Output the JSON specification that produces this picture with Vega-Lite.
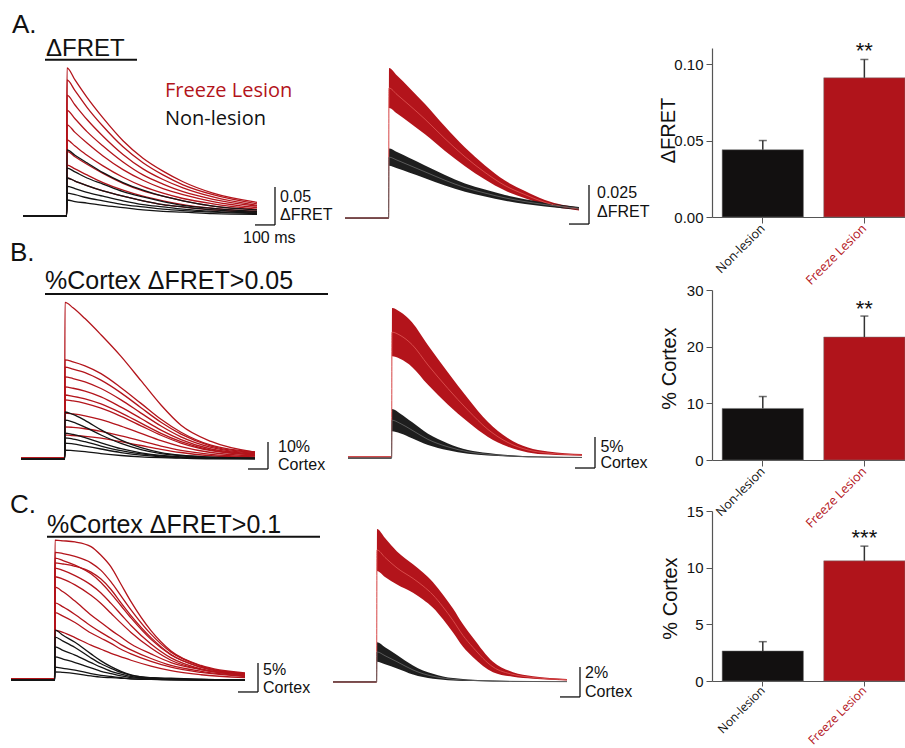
{
"$schema": "https://vega.github.io/schema/vega-lite/v6.json",
"padding": 0,
"background": "white",
"columns": 3,
"spacing": 0,
"bounds": "flush",
"align": "each",
"config": {"view": {"stroke": null}, "font": "Liberation Sans"},
"datasets": {
"a1": [
{"g":"F","i":1,"t":0,"v":0},{"g":"F","i":1,"t":218,"v":0},{"g":"F","i":1,"t":220,"v":0.195},{"g":"F","i":1,"t":260,"v":0.179},{"g":"F","i":1,"t":320,"v":0.156},{"g":"F","i":1,"t":400,"v":0.129},{"g":"F","i":1,"t":500,"v":0.099},{"g":"F","i":1,"t":600,"v":0.076},{"g":"F","i":1,"t":700,"v":0.059},{"g":"F","i":1,"t":800,"v":0.045},{"g":"F","i":1,"t":950,"v":0.030},{"g":"F","i":1,"t":1170,"v":0.018},
{"g":"F","i":2,"t":0,"v":0},{"g":"F","i":2,"t":218,"v":0},{"g":"F","i":2,"t":220,"v":0.179},{"g":"F","i":2,"t":260,"v":0.165},{"g":"F","i":2,"t":320,"v":0.143},{"g":"F","i":2,"t":400,"v":0.118},{"g":"F","i":2,"t":500,"v":0.091},{"g":"F","i":2,"t":600,"v":0.070},{"g":"F","i":2,"t":700,"v":0.054},{"g":"F","i":2,"t":800,"v":0.041},{"g":"F","i":2,"t":950,"v":0.028},{"g":"F","i":2,"t":1170,"v":0.016},
{"g":"F","i":3,"t":0,"v":0},{"g":"F","i":3,"t":218,"v":0},{"g":"F","i":3,"t":220,"v":0.159},{"g":"F","i":3,"t":260,"v":0.146},{"g":"F","i":3,"t":320,"v":0.127},{"g":"F","i":3,"t":400,"v":0.105},{"g":"F","i":3,"t":500,"v":0.081},{"g":"F","i":3,"t":600,"v":0.062},{"g":"F","i":3,"t":700,"v":0.048},{"g":"F","i":3,"t":800,"v":0.037},{"g":"F","i":3,"t":950,"v":0.025},{"g":"F","i":3,"t":1170,"v":0.014},
{"g":"F","i":4,"t":0,"v":0},{"g":"F","i":4,"t":218,"v":0},{"g":"F","i":4,"t":220,"v":0.139},{"g":"F","i":4,"t":260,"v":0.128},{"g":"F","i":4,"t":320,"v":0.111},{"g":"F","i":4,"t":400,"v":0.092},{"g":"F","i":4,"t":500,"v":0.071},{"g":"F","i":4,"t":600,"v":0.054},{"g":"F","i":4,"t":700,"v":0.042},{"g":"F","i":4,"t":800,"v":0.032},{"g":"F","i":4,"t":950,"v":0.022},{"g":"F","i":4,"t":1170,"v":0.013},
{"g":"F","i":5,"t":0,"v":0},{"g":"F","i":5,"t":218,"v":0},{"g":"F","i":5,"t":220,"v":0.120},{"g":"F","i":5,"t":260,"v":0.110},{"g":"F","i":5,"t":320,"v":0.096},{"g":"F","i":5,"t":400,"v":0.079},{"g":"F","i":5,"t":500,"v":0.061},{"g":"F","i":5,"t":600,"v":0.047},{"g":"F","i":5,"t":700,"v":0.036},{"g":"F","i":5,"t":800,"v":0.028},{"g":"F","i":5,"t":950,"v":0.019},{"g":"F","i":5,"t":1170,"v":0.011},
{"g":"F","i":6,"t":0,"v":0},{"g":"F","i":6,"t":218,"v":0},{"g":"F","i":6,"t":220,"v":0.100},{"g":"F","i":6,"t":260,"v":0.092},{"g":"F","i":6,"t":320,"v":0.080},{"g":"F","i":6,"t":400,"v":0.066},{"g":"F","i":6,"t":500,"v":0.051},{"g":"F","i":6,"t":600,"v":0.039},{"g":"F","i":6,"t":700,"v":0.030},{"g":"F","i":6,"t":800,"v":0.023},{"g":"F","i":6,"t":950,"v":0.016},{"g":"F","i":6,"t":1170,"v":0.009},
{"g":"F","i":7,"t":0,"v":0},{"g":"F","i":7,"t":218,"v":0},{"g":"F","i":7,"t":220,"v":0.085},{"g":"F","i":7,"t":260,"v":0.078},{"g":"F","i":7,"t":320,"v":0.068},{"g":"F","i":7,"t":400,"v":0.056},{"g":"F","i":7,"t":500,"v":0.043},{"g":"F","i":7,"t":600,"v":0.033},{"g":"F","i":7,"t":700,"v":0.026},{"g":"F","i":7,"t":800,"v":0.020},{"g":"F","i":7,"t":950,"v":0.013},{"g":"F","i":7,"t":1170,"v":0.008},
{"g":"F","i":8,"t":0,"v":0},{"g":"F","i":8,"t":218,"v":0},{"g":"F","i":8,"t":220,"v":0.067},{"g":"F","i":8,"t":260,"v":0.062},{"g":"F","i":8,"t":320,"v":0.054},{"g":"F","i":8,"t":400,"v":0.044},{"g":"F","i":8,"t":500,"v":0.034},{"g":"F","i":8,"t":600,"v":0.026},{"g":"F","i":8,"t":700,"v":0.020},{"g":"F","i":8,"t":800,"v":0.015},{"g":"F","i":8,"t":950,"v":0.010},{"g":"F","i":8,"t":1170,"v":0.006},
{"g":"F","i":9,"t":0,"v":0},{"g":"F","i":9,"t":218,"v":0},{"g":"F","i":9,"t":220,"v":0.050},{"g":"F","i":9,"t":260,"v":0.046},{"g":"F","i":9,"t":320,"v":0.040},{"g":"F","i":9,"t":400,"v":0.033},{"g":"F","i":9,"t":500,"v":0.026},{"g":"F","i":9,"t":600,"v":0.020},{"g":"F","i":9,"t":700,"v":0.015},{"g":"F","i":9,"t":800,"v":0.012},{"g":"F","i":9,"t":950,"v":0.008},{"g":"F","i":9,"t":1170,"v":0.005},
{"g":"N","i":11,"t":0,"v":0},{"g":"N","i":11,"t":218,"v":0},{"g":"N","i":11,"t":220,"v":0.087},{"g":"N","i":11,"t":260,"v":0.080},{"g":"N","i":11,"t":320,"v":0.070},{"g":"N","i":11,"t":400,"v":0.057},{"g":"N","i":11,"t":500,"v":0.044},{"g":"N","i":11,"t":600,"v":0.034},{"g":"N","i":11,"t":700,"v":0.026},{"g":"N","i":11,"t":800,"v":0.020},{"g":"N","i":11,"t":950,"v":0.013},{"g":"N","i":11,"t":1170,"v":0.008},
{"g":"N","i":12,"t":0,"v":0},{"g":"N","i":12,"t":218,"v":0},{"g":"N","i":12,"t":220,"v":0.063},{"g":"N","i":12,"t":260,"v":0.058},{"g":"N","i":12,"t":320,"v":0.050},{"g":"N","i":12,"t":400,"v":0.042},{"g":"N","i":12,"t":500,"v":0.032},{"g":"N","i":12,"t":600,"v":0.025},{"g":"N","i":12,"t":700,"v":0.019},{"g":"N","i":12,"t":800,"v":0.014},{"g":"N","i":12,"t":950,"v":0.010},{"g":"N","i":12,"t":1170,"v":0.006},
{"g":"N","i":13,"t":0,"v":0},{"g":"N","i":13,"t":218,"v":0},{"g":"N","i":13,"t":220,"v":0.050},{"g":"N","i":13,"t":260,"v":0.046},{"g":"N","i":13,"t":320,"v":0.040},{"g":"N","i":13,"t":400,"v":0.033},{"g":"N","i":13,"t":500,"v":0.026},{"g":"N","i":13,"t":600,"v":0.020},{"g":"N","i":13,"t":700,"v":0.015},{"g":"N","i":13,"t":800,"v":0.012},{"g":"N","i":13,"t":950,"v":0.008},{"g":"N","i":13,"t":1170,"v":0.005},
{"g":"N","i":14,"t":0,"v":0},{"g":"N","i":14,"t":218,"v":0},{"g":"N","i":14,"t":220,"v":0.039},{"g":"N","i":14,"t":260,"v":0.036},{"g":"N","i":14,"t":320,"v":0.031},{"g":"N","i":14,"t":400,"v":0.026},{"g":"N","i":14,"t":500,"v":0.020},{"g":"N","i":14,"t":600,"v":0.015},{"g":"N","i":14,"t":700,"v":0.012},{"g":"N","i":14,"t":800,"v":0.009},{"g":"N","i":14,"t":950,"v":0.006},{"g":"N","i":14,"t":1170,"v":0.004},
{"g":"N","i":15,"t":0,"v":0},{"g":"N","i":15,"t":218,"v":0},{"g":"N","i":15,"t":220,"v":0.030},{"g":"N","i":15,"t":260,"v":0.028},{"g":"N","i":15,"t":320,"v":0.024},{"g":"N","i":15,"t":400,"v":0.020},{"g":"N","i":15,"t":500,"v":0.015},{"g":"N","i":15,"t":600,"v":0.012},{"g":"N","i":15,"t":700,"v":0.009},{"g":"N","i":15,"t":800,"v":0.007},{"g":"N","i":15,"t":950,"v":0.005},{"g":"N","i":15,"t":1170,"v":0.003},
{"g":"N","i":16,"t":0,"v":0},{"g":"N","i":16,"t":218,"v":0},{"g":"N","i":16,"t":220,"v":0.021},{"g":"N","i":16,"t":260,"v":0.019},{"g":"N","i":16,"t":320,"v":0.017},{"g":"N","i":16,"t":400,"v":0.014},{"g":"N","i":16,"t":500,"v":0.011},{"g":"N","i":16,"t":600,"v":0.008},{"g":"N","i":16,"t":700,"v":0.006},{"g":"N","i":16,"t":800,"v":0.005},{"g":"N","i":16,"t":950,"v":0.003},{"g":"N","i":16,"t":1170,"v":0.002}
],
"b1": [
{"g":"F","i":1,"t":0,"v":0.3},{"g":"F","i":1,"t":218,"v":0.3},{"g":"F","i":1,"t":220,"v":58},{"g":"F","i":1,"t":260,"v":56},{"g":"F","i":1,"t":320,"v":52},{"g":"F","i":1,"t":400,"v":46},{"g":"F","i":1,"t":500,"v":38},{"g":"F","i":1,"t":600,"v":29},{"g":"F","i":1,"t":700,"v":20},{"g":"F","i":1,"t":800,"v":12.5},{"g":"F","i":1,"t":950,"v":6.5},{"g":"F","i":1,"t":1170,"v":2.5},
{"g":"F","i":2,"t":0,"v":0.3},{"g":"F","i":2,"t":218,"v":0.3},{"g":"F","i":2,"t":220,"v":36.7},{"g":"F","i":2,"t":260,"v":36.0},{"g":"F","i":2,"t":320,"v":34.5},{"g":"F","i":2,"t":400,"v":31.6},{"g":"F","i":2,"t":500,"v":26.4},{"g":"F","i":2,"t":600,"v":20.6},{"g":"F","i":2,"t":700,"v":14.7},{"g":"F","i":2,"t":800,"v":9.9},{"g":"F","i":2,"t":950,"v":5.1},{"g":"F","i":2,"t":1170,"v":2.6},
{"g":"F","i":3,"t":0,"v":0.3},{"g":"F","i":3,"t":218,"v":0.3},{"g":"F","i":3,"t":220,"v":34},{"g":"F","i":3,"t":260,"v":33.3},{"g":"F","i":3,"t":320,"v":32},{"g":"F","i":3,"t":400,"v":29.2},{"g":"F","i":3,"t":500,"v":24.5},{"g":"F","i":3,"t":600,"v":19},{"g":"F","i":3,"t":700,"v":13.6},{"g":"F","i":3,"t":800,"v":9.2},{"g":"F","i":3,"t":950,"v":4.8},{"g":"F","i":3,"t":1170,"v":2.4},
{"g":"F","i":4,"t":0,"v":0.2},{"g":"F","i":4,"t":218,"v":0.2},{"g":"F","i":4,"t":220,"v":30.4},{"g":"F","i":4,"t":260,"v":29.8},{"g":"F","i":4,"t":320,"v":28.6},{"g":"F","i":4,"t":400,"v":26.1},{"g":"F","i":4,"t":500,"v":21.9},{"g":"F","i":4,"t":600,"v":17},{"g":"F","i":4,"t":700,"v":12.2},{"g":"F","i":4,"t":800,"v":8.2},{"g":"F","i":4,"t":950,"v":4.3},{"g":"F","i":4,"t":1170,"v":2.1},
{"g":"F","i":5,"t":0,"v":0.2},{"g":"F","i":5,"t":218,"v":0.2},{"g":"F","i":5,"t":220,"v":26.7},{"g":"F","i":5,"t":260,"v":26.2},{"g":"F","i":5,"t":320,"v":25.1},{"g":"F","i":5,"t":400,"v":23},{"g":"F","i":5,"t":500,"v":19.2},{"g":"F","i":5,"t":600,"v":15},{"g":"F","i":5,"t":700,"v":10.7},{"g":"F","i":5,"t":800,"v":7.2},{"g":"F","i":5,"t":950,"v":3.7},{"g":"F","i":5,"t":1170,"v":1.9},
{"g":"F","i":6,"t":0,"v":0.2},{"g":"F","i":6,"t":218,"v":0.2},{"g":"F","i":6,"t":220,"v":23.7},{"g":"F","i":6,"t":260,"v":23.2},{"g":"F","i":6,"t":320,"v":22.3},{"g":"F","i":6,"t":400,"v":20.4},{"g":"F","i":6,"t":500,"v":17.1},{"g":"F","i":6,"t":600,"v":13.3},{"g":"F","i":6,"t":700,"v":9.5},{"g":"F","i":6,"t":800,"v":6.4},{"g":"F","i":6,"t":950,"v":3.3},{"g":"F","i":6,"t":1170,"v":1.7},
{"g":"F","i":7,"t":0,"v":0.2},{"g":"F","i":7,"t":218,"v":0.2},{"g":"F","i":7,"t":220,"v":21.9},{"g":"F","i":7,"t":260,"v":21.5},{"g":"F","i":7,"t":320,"v":20.6},{"g":"F","i":7,"t":400,"v":18.8},{"g":"F","i":7,"t":500,"v":15.8},{"g":"F","i":7,"t":600,"v":12.3},{"g":"F","i":7,"t":700,"v":8.8},{"g":"F","i":7,"t":800,"v":5.9},{"g":"F","i":7,"t":950,"v":3.1},{"g":"F","i":7,"t":1170,"v":1.5},
{"g":"F","i":8,"t":0,"v":0.1},{"g":"F","i":8,"t":218,"v":0.1},{"g":"F","i":8,"t":220,"v":17},{"g":"F","i":8,"t":260,"v":16.7},{"g":"F","i":8,"t":320,"v":16},{"g":"F","i":8,"t":400,"v":14.6},{"g":"F","i":8,"t":500,"v":12.2},{"g":"F","i":8,"t":600,"v":9.5},{"g":"F","i":8,"t":700,"v":6.8},{"g":"F","i":8,"t":800,"v":4.6},{"g":"F","i":8,"t":950,"v":2.4},{"g":"F","i":8,"t":1170,"v":1.2},
{"g":"F","i":9,"t":0,"v":0.1},{"g":"F","i":9,"t":218,"v":0.1},{"g":"F","i":9,"t":220,"v":11.9},{"g":"F","i":9,"t":260,"v":11.7},{"g":"F","i":9,"t":320,"v":11.2},{"g":"F","i":9,"t":400,"v":10.2},{"g":"F","i":9,"t":500,"v":8.6},{"g":"F","i":9,"t":600,"v":6.7},{"g":"F","i":9,"t":700,"v":4.8},{"g":"F","i":9,"t":800,"v":3.2},{"g":"F","i":9,"t":950,"v":1.7},{"g":"F","i":9,"t":1170,"v":0.8},
{"g":"F","i":10,"t":0,"v":0.1},{"g":"F","i":10,"t":218,"v":0.1},{"g":"F","i":10,"t":220,"v":8.9},{"g":"F","i":10,"t":260,"v":8.7},{"g":"F","i":10,"t":320,"v":8.4},{"g":"F","i":10,"t":400,"v":7.7},{"g":"F","i":10,"t":500,"v":6.4},{"g":"F","i":10,"t":600,"v":5},{"g":"F","i":10,"t":700,"v":3.6},{"g":"F","i":10,"t":800,"v":2.4},{"g":"F","i":10,"t":950,"v":1.2},{"g":"F","i":10,"t":1170,"v":0.6},
{"g":"N","i":11,"t":0,"v":0},{"g":"N","i":11,"t":218,"v":0},{"g":"N","i":11,"t":220,"v":17.4},{"g":"N","i":11,"t":260,"v":16.5},{"g":"N","i":11,"t":320,"v":14.3},{"g":"N","i":11,"t":400,"v":10.8},{"g":"N","i":11,"t":500,"v":7},{"g":"N","i":11,"t":600,"v":4.2},{"g":"N","i":11,"t":700,"v":2.4},{"g":"N","i":11,"t":800,"v":1.4},{"g":"N","i":11,"t":950,"v":0.7},{"g":"N","i":11,"t":1170,"v":0.3},
{"g":"N","i":12,"t":0,"v":0},{"g":"N","i":12,"t":218,"v":0},{"g":"N","i":12,"t":220,"v":14.4},{"g":"N","i":12,"t":260,"v":13.7},{"g":"N","i":12,"t":320,"v":11.8},{"g":"N","i":12,"t":400,"v":8.9},{"g":"N","i":12,"t":500,"v":5.8},{"g":"N","i":12,"t":600,"v":3.5},{"g":"N","i":12,"t":700,"v":2},{"g":"N","i":12,"t":800,"v":1.2},{"g":"N","i":12,"t":950,"v":0.6},{"g":"N","i":12,"t":1170,"v":0.3},
{"g":"N","i":13,"t":0,"v":0},{"g":"N","i":13,"t":218,"v":0},{"g":"N","i":13,"t":220,"v":9.6},{"g":"N","i":13,"t":260,"v":9.1},{"g":"N","i":13,"t":320,"v":7.9},{"g":"N","i":13,"t":400,"v":6},{"g":"N","i":13,"t":500,"v":3.8},{"g":"N","i":13,"t":600,"v":2.3},{"g":"N","i":13,"t":700,"v":1.3},{"g":"N","i":13,"t":800,"v":0.8},{"g":"N","i":13,"t":950,"v":0.4},{"g":"N","i":13,"t":1170,"v":0.2},
{"g":"N","i":14,"t":0,"v":0},{"g":"N","i":14,"t":218,"v":0},{"g":"N","i":14,"t":220,"v":7.8},{"g":"N","i":14,"t":260,"v":7.4},{"g":"N","i":14,"t":320,"v":6.4},{"g":"N","i":14,"t":400,"v":4.8},{"g":"N","i":14,"t":500,"v":3.1},{"g":"N","i":14,"t":600,"v":1.9},{"g":"N","i":14,"t":700,"v":1.1},{"g":"N","i":14,"t":800,"v":0.6},{"g":"N","i":14,"t":950,"v":0.3},{"g":"N","i":14,"t":1170,"v":0.2},
{"g":"N","i":15,"t":0,"v":0},{"g":"N","i":15,"t":218,"v":0},{"g":"N","i":15,"t":220,"v":5.9},{"g":"N","i":15,"t":260,"v":5.6},{"g":"N","i":15,"t":320,"v":4.8},{"g":"N","i":15,"t":400,"v":3.7},{"g":"N","i":15,"t":500,"v":2.4},{"g":"N","i":15,"t":600,"v":1.4},{"g":"N","i":15,"t":700,"v":0.8},{"g":"N","i":15,"t":800,"v":0.5},{"g":"N","i":15,"t":950,"v":0.2},{"g":"N","i":15,"t":1170,"v":0.1},
{"g":"N","i":16,"t":0,"v":0},{"g":"N","i":16,"t":218,"v":0},{"g":"N","i":16,"t":220,"v":3.3},{"g":"N","i":16,"t":260,"v":3.1},{"g":"N","i":16,"t":320,"v":2.7},{"g":"N","i":16,"t":400,"v":2},{"g":"N","i":16,"t":500,"v":1.3},{"g":"N","i":16,"t":600,"v":0.8},{"g":"N","i":16,"t":700,"v":0.5},{"g":"N","i":16,"t":800,"v":0.3},{"g":"N","i":16,"t":950,"v":0.1},{"g":"N","i":16,"t":1170,"v":0.1}
],
"c1": [
{"g":"F","i":1,"t":0,"v":0.2},{"g":"F","i":1,"t":218,"v":0.2},{"g":"F","i":1,"t":220,"v":24.1},{"g":"F","i":1,"t":260,"v":24},{"g":"F","i":1,"t":320,"v":23.8},{"g":"F","i":1,"t":400,"v":23},{"g":"F","i":1,"t":450,"v":21.5},{"g":"F","i":1,"t":500,"v":19.5},{"g":"F","i":1,"t":550,"v":16.5},{"g":"F","i":1,"t":600,"v":13.5},{"g":"F","i":1,"t":700,"v":8.5},{"g":"F","i":1,"t":800,"v":5},{"g":"F","i":1,"t":950,"v":2.5},{"g":"F","i":1,"t":1170,"v":1.2},
{"g":"F","i":2,"t":0,"v":0.2},{"g":"F","i":2,"t":218,"v":0.2},{"g":"F","i":2,"t":220,"v":22},{"g":"F","i":2,"t":260,"v":21.8},{"g":"F","i":2,"t":320,"v":21.3},{"g":"F","i":2,"t":400,"v":20.2},{"g":"F","i":2,"t":450,"v":18.9},{"g":"F","i":2,"t":500,"v":16.9},{"g":"F","i":2,"t":550,"v":14.5},{"g":"F","i":2,"t":600,"v":12.1},{"g":"F","i":2,"t":700,"v":7.9},{"g":"F","i":2,"t":800,"v":4.8},{"g":"F","i":2,"t":950,"v":2.4},{"g":"F","i":2,"t":1170,"v":1.1},
{"g":"F","i":3,"t":0,"v":0.2},{"g":"F","i":3,"t":218,"v":0.2},{"g":"F","i":3,"t":220,"v":21},{"g":"F","i":3,"t":260,"v":20.6},{"g":"F","i":3,"t":320,"v":19.8},{"g":"F","i":3,"t":400,"v":18.3},{"g":"F","i":3,"t":450,"v":16.8},{"g":"F","i":3,"t":500,"v":14.9},{"g":"F","i":3,"t":550,"v":12.8},{"g":"F","i":3,"t":600,"v":10.7},{"g":"F","i":3,"t":700,"v":7},{"g":"F","i":3,"t":800,"v":4.3},{"g":"F","i":3,"t":950,"v":2.2},{"g":"F","i":3,"t":1170,"v":1},
{"g":"F","i":4,"t":0,"v":0.2},{"g":"F","i":4,"t":218,"v":0.2},{"g":"F","i":4,"t":220,"v":20.2},{"g":"F","i":4,"t":260,"v":20},{"g":"F","i":4,"t":320,"v":19.6},{"g":"F","i":4,"t":400,"v":18.6},{"g":"F","i":4,"t":450,"v":17.4},{"g":"F","i":4,"t":500,"v":15.6},{"g":"F","i":4,"t":550,"v":13.3},{"g":"F","i":4,"t":600,"v":11.1},{"g":"F","i":4,"t":700,"v":7.3},{"g":"F","i":4,"t":800,"v":4.4},{"g":"F","i":4,"t":950,"v":2.2},{"g":"F","i":4,"t":1170,"v":1},
{"g":"F","i":5,"t":0,"v":0.2},{"g":"F","i":5,"t":218,"v":0.2},{"g":"F","i":5,"t":220,"v":19.3},{"g":"F","i":5,"t":260,"v":18.9},{"g":"F","i":5,"t":320,"v":18},{"g":"F","i":5,"t":400,"v":16.4},{"g":"F","i":5,"t":450,"v":15},{"g":"F","i":5,"t":500,"v":13.2},{"g":"F","i":5,"t":550,"v":11.3},{"g":"F","i":5,"t":600,"v":9.4},{"g":"F","i":5,"t":700,"v":6.2},{"g":"F","i":5,"t":800,"v":3.8},{"g":"F","i":5,"t":950,"v":1.9},{"g":"F","i":5,"t":1170,"v":0.9},
{"g":"F","i":6,"t":0,"v":0.1},{"g":"F","i":6,"t":218,"v":0.1},{"g":"F","i":6,"t":220,"v":17.8},{"g":"F","i":6,"t":260,"v":17.4},{"g":"F","i":6,"t":320,"v":16.4},{"g":"F","i":6,"t":400,"v":14.6},{"g":"F","i":6,"t":450,"v":13.2},{"g":"F","i":6,"t":500,"v":11.5},{"g":"F","i":6,"t":550,"v":9.8},{"g":"F","i":6,"t":600,"v":8.2},{"g":"F","i":6,"t":700,"v":5.5},{"g":"F","i":6,"t":800,"v":3.4},{"g":"F","i":6,"t":950,"v":1.8},{"g":"F","i":6,"t":1170,"v":0.9},
{"g":"F","i":7,"t":0,"v":0.1},{"g":"F","i":7,"t":218,"v":0.1},{"g":"F","i":7,"t":220,"v":16},{"g":"F","i":7,"t":260,"v":15.2},{"g":"F","i":7,"t":320,"v":13.6},{"g":"F","i":7,"t":400,"v":11.2},{"g":"F","i":7,"t":450,"v":9.9},{"g":"F","i":7,"t":500,"v":8.6},{"g":"F","i":7,"t":550,"v":7.4},{"g":"F","i":7,"t":600,"v":6.2},{"g":"F","i":7,"t":700,"v":4.5},{"g":"F","i":7,"t":800,"v":3},{"g":"F","i":7,"t":950,"v":1.8},{"g":"F","i":7,"t":1170,"v":0.8},
{"g":"F","i":8,"t":0,"v":0.1},{"g":"F","i":8,"t":218,"v":0.1},{"g":"F","i":8,"t":220,"v":13.3},{"g":"F","i":8,"t":260,"v":12.6},{"g":"F","i":8,"t":320,"v":11.3},{"g":"F","i":8,"t":400,"v":9.3},{"g":"F","i":8,"t":450,"v":8.2},{"g":"F","i":8,"t":500,"v":7.2},{"g":"F","i":8,"t":550,"v":6.1},{"g":"F","i":8,"t":600,"v":5.2},{"g":"F","i":8,"t":700,"v":3.7},{"g":"F","i":8,"t":800,"v":2.5},{"g":"F","i":8,"t":950,"v":1.5},{"g":"F","i":8,"t":1170,"v":0.7},
{"g":"F","i":9,"t":0,"v":0.1},{"g":"F","i":9,"t":218,"v":0.1},{"g":"F","i":9,"t":220,"v":11.6},{"g":"F","i":9,"t":260,"v":11},{"g":"F","i":9,"t":320,"v":9.9},{"g":"F","i":9,"t":400,"v":8.1},{"g":"F","i":9,"t":450,"v":7.2},{"g":"F","i":9,"t":500,"v":6.3},{"g":"F","i":9,"t":550,"v":5.3},{"g":"F","i":9,"t":600,"v":4.5},{"g":"F","i":9,"t":700,"v":3.2},{"g":"F","i":9,"t":800,"v":2.2},{"g":"F","i":9,"t":950,"v":1.3},{"g":"F","i":9,"t":1170,"v":0.6},
{"g":"F","i":10,"t":0,"v":0.1},{"g":"F","i":10,"t":218,"v":0.1},{"g":"F","i":10,"t":220,"v":8.6},{"g":"F","i":10,"t":260,"v":8.2},{"g":"F","i":10,"t":320,"v":7.3},{"g":"F","i":10,"t":400,"v":6},{"g":"F","i":10,"t":450,"v":5.3},{"g":"F","i":10,"t":500,"v":4.6},{"g":"F","i":10,"t":550,"v":4},{"g":"F","i":10,"t":600,"v":3.4},{"g":"F","i":10,"t":700,"v":2.4},{"g":"F","i":10,"t":800,"v":1.6},{"g":"F","i":10,"t":950,"v":0.9},{"g":"F","i":10,"t":1170,"v":0.4},
{"g":"N","i":11,"t":0,"v":0},{"g":"N","i":11,"t":218,"v":0},{"g":"N","i":11,"t":220,"v":8.6},{"g":"N","i":11,"t":260,"v":7.7},{"g":"N","i":11,"t":320,"v":6.5},{"g":"N","i":11,"t":400,"v":4.5},{"g":"N","i":11,"t":450,"v":3.3},{"g":"N","i":11,"t":500,"v":2.3},{"g":"N","i":11,"t":550,"v":1.5},{"g":"N","i":11,"t":600,"v":0.9},{"g":"N","i":11,"t":700,"v":0.4},{"g":"N","i":11,"t":800,"v":0.3},{"g":"N","i":11,"t":950,"v":0.1},{"g":"N","i":11,"t":1170,"v":0},
{"g":"N","i":12,"t":0,"v":0},{"g":"N","i":12,"t":218,"v":0},{"g":"N","i":12,"t":220,"v":7.4},{"g":"N","i":12,"t":260,"v":6.7},{"g":"N","i":12,"t":320,"v":5.6},{"g":"N","i":12,"t":400,"v":3.8},{"g":"N","i":12,"t":450,"v":2.8},{"g":"N","i":12,"t":500,"v":2},{"g":"N","i":12,"t":550,"v":1.3},{"g":"N","i":12,"t":600,"v":0.8},{"g":"N","i":12,"t":700,"v":0.4},{"g":"N","i":12,"t":800,"v":0.2},{"g":"N","i":12,"t":950,"v":0.1},{"g":"N","i":12,"t":1170,"v":0},
{"g":"N","i":13,"t":0,"v":0},{"g":"N","i":13,"t":218,"v":0},{"g":"N","i":13,"t":220,"v":5.7},{"g":"N","i":13,"t":260,"v":5.1},{"g":"N","i":13,"t":320,"v":4.3},{"g":"N","i":13,"t":400,"v":3},{"g":"N","i":13,"t":450,"v":2.2},{"g":"N","i":13,"t":500,"v":1.5},{"g":"N","i":13,"t":550,"v":1},{"g":"N","i":13,"t":600,"v":0.6},{"g":"N","i":13,"t":700,"v":0.3},{"g":"N","i":13,"t":800,"v":0.2},{"g":"N","i":13,"t":950,"v":0.1},{"g":"N","i":13,"t":1170,"v":0},
{"g":"N","i":14,"t":0,"v":0},{"g":"N","i":14,"t":218,"v":0},{"g":"N","i":14,"t":220,"v":4},{"g":"N","i":14,"t":260,"v":3.6},{"g":"N","i":14,"t":320,"v":3},{"g":"N","i":14,"t":400,"v":2.1},{"g":"N","i":14,"t":450,"v":1.5},{"g":"N","i":14,"t":500,"v":1.1},{"g":"N","i":14,"t":550,"v":0.7},{"g":"N","i":14,"t":600,"v":0.4},{"g":"N","i":14,"t":700,"v":0.2},{"g":"N","i":14,"t":800,"v":0.1},{"g":"N","i":14,"t":950,"v":0},{"g":"N","i":14,"t":1170,"v":0},
{"g":"N","i":15,"t":0,"v":0},{"g":"N","i":15,"t":218,"v":0},{"g":"N","i":15,"t":220,"v":2.2},{"g":"N","i":15,"t":260,"v":2},{"g":"N","i":15,"t":320,"v":1.7},{"g":"N","i":15,"t":400,"v":1.1},{"g":"N","i":15,"t":450,"v":0.8},{"g":"N","i":15,"t":500,"v":0.6},{"g":"N","i":15,"t":550,"v":0.4},{"g":"N","i":15,"t":600,"v":0.2},{"g":"N","i":15,"t":700,"v":0.1},{"g":"N","i":15,"t":800,"v":0.1},{"g":"N","i":15,"t":950,"v":0},{"g":"N","i":15,"t":1170,"v":0},
{"g":"N","i":16,"t":0,"v":0},{"g":"N","i":16,"t":218,"v":0},{"g":"N","i":16,"t":220,"v":1.4},{"g":"N","i":16,"t":260,"v":1.3},{"g":"N","i":16,"t":320,"v":1.1},{"g":"N","i":16,"t":400,"v":0.7},{"g":"N","i":16,"t":450,"v":0.5},{"g":"N","i":16,"t":500,"v":0.4},{"g":"N","i":16,"t":550,"v":0.3},{"g":"N","i":16,"t":600,"v":0.2},{"g":"N","i":16,"t":700,"v":0.1},{"g":"N","i":16,"t":800,"v":0},{"g":"N","i":16,"t":950,"v":0},{"g":"N","i":16,"t":1170,"v":0}
],
"a2": [
{"g":"F","t":0,"m":0,"lo":-0.0004,"hi":0.0004},{"g":"F","t":218,"m":0,"lo":-0.0004,"hi":0.0004},{"g":"F","t":220,"m":0.0833,"lo":0.0705,"hi":0.0961},{"g":"F","t":260,"m":0.0791,"lo":0.0669,"hi":0.0913},{"g":"F","t":320,"m":0.0725,"lo":0.0613,"hi":0.0837},{"g":"F","t":400,"m":0.0633,"lo":0.0536,"hi":0.0730},{"g":"F","t":500,"m":0.0508,"lo":0.0430,"hi":0.0586},{"g":"F","t":600,"m":0.0392,"lo":0.0332,"hi":0.0452},{"g":"F","t":700,"m":0.0292,"lo":0.0247,"hi":0.0337},{"g":"F","t":800,"m":0.0208,"lo":0.0176,"hi":0.0240},{"g":"F","t":900,"m":0.0150,"lo":0.0127,"hi":0.0173},{"g":"F","t":1000,"m":0.0100,"lo":0.0085,"hi":0.0115},{"g":"F","t":1170,"m":0.0058,"lo":0.0049,"hi":0.0067},
{"g":"N","t":0,"m":0,"lo":-0.0004,"hi":0.0004},{"g":"N","t":218,"m":0,"lo":-0.0004,"hi":0.0004},{"g":"N","t":220,"m":0.039,"lo":0.0335,"hi":0.0445},{"g":"N","t":260,"m":0.0371,"lo":0.0319,"hi":0.0423},{"g":"N","t":320,"m":0.0339,"lo":0.0292,"hi":0.0386},{"g":"N","t":400,"m":0.0296,"lo":0.0255,"hi":0.0337},{"g":"N","t":500,"m":0.0242,"lo":0.0208,"hi":0.0276},{"g":"N","t":600,"m":0.0195,"lo":0.0168,"hi":0.0222},{"g":"N","t":700,"m":0.0160,"lo":0.0138,"hi":0.0182},{"g":"N","t":800,"m":0.0129,"lo":0.0111,"hi":0.0147},{"g":"N","t":900,"m":0.0105,"lo":0.0090,"hi":0.0120},{"g":"N","t":1000,"m":0.0086,"lo":0.0074,"hi":0.0098},{"g":"N","t":1170,"m":0.0062,"lo":0.0053,"hi":0.0071}
],
"b2": [
{"g":"F","t":0,"m":0.2,"lo":0.1,"hi":0.3},{"g":"F","t":218,"m":0.2,"lo":0.1,"hi":0.3},{"g":"F","t":220,"m":20.3,"lo":16.4,"hi":24.2},{"g":"F","t":260,"m":19.8,"lo":16.0,"hi":23.6},{"g":"F","t":320,"m":18.3,"lo":14.7,"hi":21.9},{"g":"F","t":400,"m":15,"lo":11.8,"hi":18.2},{"g":"F","t":500,"m":11.2,"lo":8.6,"hi":13.8},{"g":"F","t":600,"m":7.7,"lo":5.8,"hi":9.6},{"g":"F","t":700,"m":4.6,"lo":3.4,"hi":5.8},{"g":"F","t":800,"m":2.5,"lo":1.8,"hi":3.2},{"g":"F","t":900,"m":1.3,"lo":0.9,"hi":1.7},{"g":"F","t":1000,"m":0.8,"lo":0.55,"hi":1.05},{"g":"F","t":1170,"m":0.5,"lo":0.35,"hi":0.65},
{"g":"N","t":0,"m":0,"lo":-0.1,"hi":0.1},{"g":"N","t":218,"m":0,"lo":-0.1,"hi":0.1},{"g":"N","t":220,"m":6.1,"lo":4.3,"hi":7.9},{"g":"N","t":260,"m":5.6,"lo":4.0,"hi":7.2},{"g":"N","t":320,"m":4.5,"lo":3.2,"hi":5.8},{"g":"N","t":400,"m":3.0,"lo":2.1,"hi":3.9},{"g":"N","t":500,"m":1.8,"lo":1.25,"hi":2.35},{"g":"N","t":600,"m":1.0,"lo":0.7,"hi":1.3},{"g":"N","t":700,"m":0.6,"lo":0.4,"hi":0.8},{"g":"N","t":800,"m":0.35,"lo":0.23,"hi":0.47},{"g":"N","t":900,"m":0.2,"lo":0.12,"hi":0.28},{"g":"N","t":1000,"m":0.15,"lo":0.09,"hi":0.21},{"g":"N","t":1170,"m":0.1,"lo":0.05,"hi":0.15}
],
"c2": [
{"g":"F","t":0,"m":0,"lo":-0.04,"hi":0.04},{"g":"F","t":218,"m":0,"lo":-0.04,"hi":0.04},{"g":"F","t":220,"m":8.8,"lo":7.4,"hi":10.2},{"g":"F","t":260,"m":8.3,"lo":7.0,"hi":9.6},{"g":"F","t":320,"m":7.6,"lo":6.5,"hi":8.7},{"g":"F","t":400,"m":6.9,"lo":5.95,"hi":7.85},{"g":"F","t":450,"m":6.4,"lo":5.5,"hi":7.3},{"g":"F","t":500,"m":5.8,"lo":4.95,"hi":6.65},{"g":"F","t":550,"m":5.0,"lo":4.18,"hi":5.82},{"g":"F","t":600,"m":4.1,"lo":3.3,"hi":4.9},{"g":"F","t":650,"m":3.1,"lo":2.35,"hi":3.85},{"g":"F","t":700,"m":2.3,"lo":1.65,"hi":2.95},{"g":"F","t":800,"m":1.0,"lo":0.65,"hi":1.35},{"g":"F","t":900,"m":0.5,"lo":0.35,"hi":0.65},{"g":"F","t":1000,"m":0.3,"lo":0.22,"hi":0.38},{"g":"F","t":1170,"m":0.15,"lo":0.1,"hi":0.2},
{"g":"N","t":0,"m":0,"lo":-0.04,"hi":0.04},{"g":"N","t":218,"m":0,"lo":-0.04,"hi":0.04},{"g":"N","t":220,"m":2.0,"lo":1.35,"hi":2.65},{"g":"N","t":260,"m":1.75,"lo":1.18,"hi":2.32},{"g":"N","t":320,"m":1.35,"lo":0.9,"hi":1.8},{"g":"N","t":400,"m":0.8,"lo":0.5,"hi":1.1},{"g":"N","t":450,"m":0.55,"lo":0.33,"hi":0.77},{"g":"N","t":500,"m":0.38,"lo":0.22,"hi":0.54},{"g":"N","t":550,"m":0.26,"lo":0.15,"hi":0.37},{"g":"N","t":600,"m":0.18,"lo":0.10,"hi":0.26},{"g":"N","t":650,"m":0.13,"lo":0.07,"hi":0.19},{"g":"N","t":700,"m":0.1,"lo":0.06,"hi":0.14},{"g":"N","t":800,"m":0.06,"lo":0.03,"hi":0.09},{"g":"N","t":900,"m":0.04,"lo":0.02,"hi":0.06},{"g":"N","t":1000,"m":0.03,"lo":0.01,"hi":0.05},{"g":"N","t":1170,"m":0.02,"lo":0.01,"hi":0.03}
]
},
"concat": [
{
"width": 335, "height": 265,
"data": {"values": [{}]},
"layer": [
{"data": {"name": "a1"}, "mark": {"type": "line", "strokeWidth": 1.3, "interpolate": "monotone"},
 "encoding": {"x": {"field": "t", "type": "quantitative", "scale": {"domain": [-115, 1560], "nice": false, "zero": false}, "axis": null},
  "y": {"field": "v", "type": "quantitative", "scale": {"domain": [-0.0645, 0.2842], "nice": false, "zero": false}, "axis": null},
  "detail": {"field": "i", "type": "nominal"},
  "color": {"condition": {"test": "datum.g == 'F'", "value": "#b3141b"}, "value": "#141414"}}},
{"mark": {"type": "rule", "color": "#111", "strokeWidth": 1.3}, "encoding": {"x": {"datum": 1160}, "x2": {"datum": 1260}, "y": {"datum": -0.0118}}},
{"mark": {"type": "rule", "color": "#111", "strokeWidth": 1.3}, "encoding": {"x": {"datum": 1260}, "y": {"datum": -0.0118}, "y2": {"datum": 0.0382}}},
{"mark": {"type": "text", "text": "0.05", "align": "left", "baseline": "alphabetic", "fontSize": 16, "color": "#111"}, "encoding": {"x": {"datum": 1285}, "y": {"datum": 0.0184}}},
{"mark": {"type": "text", "text": "ΔFRET", "align": "left", "baseline": "alphabetic", "fontSize": 16, "color": "#111"}, "encoding": {"x": {"datum": 1285}, "y": {"datum": -0.0053}}},
{"mark": {"type": "text", "text": "100 ms", "align": "left", "baseline": "alphabetic", "fontSize": 16, "color": "#111"}, "encoding": {"x": {"datum": 1100}, "y": {"datum": -0.0355}}},
{"mark": {"type": "text", "text": "A.", "align": "left", "baseline": "alphabetic", "fontSize": 26, "color": "#111"}, "encoding": {"x": {"datum": -55}, "y": {"datum": 0.2408}}},
{"mark": {"type": "text", "text": "ΔFRET", "align": "left", "baseline": "alphabetic", "fontSize": 24, "color": "#111"}, "encoding": {"x": {"datum": 115}, "y": {"datum": 0.2105}}},
{"mark": {"type": "rule", "color": "#111", "strokeWidth": 2}, "encoding": {"x": {"datum": 110}, "x2": {"datum": 570}, "y": {"datum": 0.2055}}},
{"mark": {"type": "text", "text": "Freeze Lesion", "align": "left", "baseline": "alphabetic", "fontSize": 20, "font": "Open Sans", "color": "#b3141b"}, "encoding": {"x": {"datum": 710}, "y": {"datum": 0.1566}}},
{"mark": {"type": "text", "text": "Non-lesion", "align": "left", "baseline": "alphabetic", "fontSize": 20, "font": "Open Sans", "color": "#111"}, "encoding": {"x": {"datum": 710}, "y": {"datum": 0.1197}}}
]
},
{
"width": 377, "height": 265,
"data": {"values": [{}]},
"layer": [
{"data": {"name": "a2"}, "mark": {"type": "area", "interpolate": "monotone"},
 "encoding": {"x": {"field": "t", "type": "quantitative", "scale": {"domain": [-50, 1835], "nice": false, "zero": false}, "axis": null},
  "y": {"field": "lo", "type": "quantitative", "scale": {"domain": [-0.0301, 0.1397], "nice": false, "zero": false}, "axis": null},
  "y2": {"field": "hi"},
  "detail": {"field": "g", "type": "nominal"},
  "color": {"condition": {"test": "datum.g == 'F'", "value": "#b3141b"}, "value": "#1e1e1e"}}},
{"data": {"name": "a2"}, "mark": {"type": "line", "strokeWidth": 1, "interpolate": "monotone"},
 "encoding": {"x": {"field": "t", "type": "quantitative"}, "y": {"field": "m", "type": "quantitative"},
  "detail": {"field": "g", "type": "nominal"},
  "color": {"condition": {"test": "datum.g == 'F'", "value": "#d84a4a"}, "value": "#5a5a5a"}}},
{"mark": {"type": "rule", "color": "#111", "strokeWidth": 1.3}, "encoding": {"x": {"datum": 1120}, "x2": {"datum": 1220}, "y": {"datum": -0.00385}}},
{"mark": {"type": "rule", "color": "#111", "strokeWidth": 1.3}, "encoding": {"x": {"datum": 1220}, "y": {"datum": -0.00385}, "y2": {"datum": 0.02115}}},
{"mark": {"type": "text", "text": "0.025", "align": "left", "baseline": "alphabetic", "fontSize": 16, "color": "#111"}, "encoding": {"x": {"datum": 1260}, "y": {"datum": 0.0128}}},
{"mark": {"type": "text", "text": "ΔFRET", "align": "left", "baseline": "alphabetic", "fontSize": 16, "color": "#111"}, "encoding": {"x": {"datum": 1260}, "y": {"datum": 0.0006}}}
]
},
{
"width": 193, "height": 265,
"data": {"values": [{"g": "Non-lesion", "m": 0.044, "hi": 0.050, "star": ""}, {"g": "Freeze Lesion", "m": 0.091, "hi": 0.103, "star": "**"}]},
"encoding": {"x": {"field": "g", "type": "nominal", "sort": ["Non-lesion", "Freeze Lesion"], "scale": {"paddingInner": 0.2, "paddingOuter": 0.05, "align": 1},
 "axis": {"title": null, "offset": -48, "labelAngle": -45, "labelBaseline": "middle", "labelFont": "Open Sans", "labelFontSize": 12.5, "labelColor": {"condition": {"test": "datum.value == 'Freeze Lesion'", "value": "#b3141b"}, "value": "#111"}, "domainColor": "#555", "domainWidth": 1.2, "tickColor": "#555", "tickSize": 6, "labelPadding": 3}}},
"layer": [
{"mark": {"type": "bar", "stroke": "#777", "strokeWidth": 0.5},
 "encoding": {"y": {"field": "m", "type": "quantitative", "scale": {"domain": [0, 0.1105], "range": [217, 48], "nice": false, "zero": false},
   "axis": {"values": [0, 0.05, 0.1], "format": ".2f", "tickSize": 6, "grid": false, "title": "ΔFRET", "titleX": -44, "titleY": 130, "titleAngle": -90, "titleAlign": "center", "titleBaseline": "middle", "titleFontSize": 20, "titleFontWeight": "normal", "titleColor": "#111", "labelFontSize": 15, "labelColor": "#111", "labelPadding": 3, "domainColor": "#555", "domainWidth": 1.2, "tickColor": "#555"}},
  "color": {"condition": {"test": "datum.g == 'Freeze Lesion'", "value": "#b0141b"}, "value": "#121010"}}},
{"mark": {"type": "rule", "color": "#333", "strokeWidth": 1.5}, "encoding": {"y": {"field": "m", "type": "quantitative"}, "y2": {"field": "hi"}}},
{"mark": {"type": "tick", "color": "#333", "size": 8, "thickness": 1.5}, "encoding": {"y": {"field": "hi", "type": "quantitative"}}},
{"mark": {"type": "text", "fontSize": 22, "dy": -1, "baseline": "alphabetic", "align": "center", "color": "#111"}, "encoding": {"y": {"field": "hi", "type": "quantitative"}, "text": {"field": "star"}}}
]
},
{
"width": 335, "height": 220,
"data": {"values": [{}]},
"layer": [
{"data": {"name": "b1"}, "mark": {"type": "line", "strokeWidth": 1.3, "interpolate": "monotone"},
 "encoding": {"x": {"field": "t", "type": "quantitative", "scale": {"domain": [-105, 1570], "nice": false, "zero": false}, "axis": null},
  "y": {"field": "v", "type": "quantitative", "scale": {"domain": [-9.63, 71.85], "nice": false, "zero": false}, "axis": null},
  "detail": {"field": "i", "type": "nominal"},
  "color": {"condition": {"test": "datum.g == 'F'", "value": "#b3141b"}, "value": "#141414"}}},
{"mark": {"type": "rule", "color": "#111", "strokeWidth": 1.3}, "encoding": {"x": {"datum": 1135}, "x2": {"datum": 1235}, "y": {"datum": -3.7}}},
{"mark": {"type": "rule", "color": "#111", "strokeWidth": 1.3}, "encoding": {"x": {"datum": 1235}, "y": {"datum": -3.7}, "y2": {"datum": 6.3}}},
{"mark": {"type": "text", "text": "10%", "align": "left", "baseline": "alphabetic", "fontSize": 16, "color": "#111"}, "encoding": {"x": {"datum": 1285}, "y": {"datum": 2.6}}},
{"mark": {"type": "text", "text": "Cortex", "align": "left", "baseline": "alphabetic", "fontSize": 16, "color": "#111"}, "encoding": {"x": {"datum": 1285}, "y": {"datum": -4.1}}},
{"mark": {"type": "text", "text": "B.", "align": "left", "baseline": "alphabetic", "fontSize": 26, "color": "#111"}, "encoding": {"x": {"datum": -55}, "y": {"datum": 73.3}}},
{"mark": {"type": "text", "text": "%Cortex ΔFRET>0.05", "align": "left", "baseline": "alphabetic", "fontSize": 25, "color": "#111"}, "encoding": {"x": {"datum": 120}, "y": {"datum": 63}}},
{"mark": {"type": "rule", "color": "#111", "strokeWidth": 2}, "encoding": {"x": {"datum": 120}, "x2": {"datum": 1535}, "y": {"datum": 61.1}}}
]
},
{
"width": 377, "height": 220,
"data": {"values": [{}]},
"layer": [
{"data": {"name": "b2"}, "mark": {"type": "area", "interpolate": "monotone"},
 "encoding": {"x": {"field": "t", "type": "quantitative", "scale": {"domain": [-65, 1820], "nice": false, "zero": false}, "axis": null},
  "y": {"field": "lo", "type": "quantitative", "scale": {"domain": [-4.35, 31.13], "nice": false, "zero": false}, "axis": null},
  "y2": {"field": "hi"},
  "detail": {"field": "g", "type": "nominal"},
  "color": {"condition": {"test": "datum.g == 'F'", "value": "#b3141b"}, "value": "#1e1e1e"}}},
{"data": {"name": "b2"}, "mark": {"type": "line", "strokeWidth": 1, "interpolate": "monotone"},
 "encoding": {"x": {"field": "t", "type": "quantitative"}, "y": {"field": "m", "type": "quantitative"},
  "detail": {"field": "g", "type": "nominal"},
  "color": {"condition": {"test": "datum.g == 'F'", "value": "#d84a4a"}, "value": "#5a5a5a"}}},
{"mark": {"type": "rule", "color": "#111", "strokeWidth": 1.3}, "encoding": {"x": {"datum": 1135}, "x2": {"datum": 1235}, "y": {"datum": -1.61}}},
{"mark": {"type": "rule", "color": "#111", "strokeWidth": 1.3}, "encoding": {"x": {"datum": 1235}, "y": {"datum": -1.61}, "y2": {"datum": 3.39}}},
{"mark": {"type": "text", "text": "5%", "align": "left", "baseline": "alphabetic", "fontSize": 16, "color": "#111"}, "encoding": {"x": {"datum": 1262}, "y": {"datum": 0.97}}},
{"mark": {"type": "text", "text": "Cortex", "align": "left", "baseline": "alphabetic", "fontSize": 16, "color": "#111"}, "encoding": {"x": {"datum": 1262}, "y": {"datum": -1.6}}}
]
},
{
"width": 193, "height": 220,
"data": {"values": [{"g": "Non-lesion", "m": 9.1, "hi": 11.2, "star": ""}, {"g": "Freeze Lesion", "m": 21.7, "hi": 25.4, "star": "**"}]},
"encoding": {"x": {"field": "g", "type": "nominal", "sort": ["Non-lesion", "Freeze Lesion"], "scale": {"paddingInner": 0.2, "paddingOuter": 0.05, "align": 1},
 "axis": {"title": null, "offset": -25, "labelAngle": -45, "labelBaseline": "middle", "labelFont": "Open Sans", "labelFontSize": 12.5, "labelColor": {"condition": {"test": "datum.value == 'Freeze Lesion'", "value": "#b3141b"}, "value": "#111"}, "domainColor": "#555", "domainWidth": 1.2, "tickColor": "#555", "tickSize": 6, "labelPadding": 3}}},
"layer": [
{"mark": {"type": "bar", "stroke": "#777", "strokeWidth": 0.5},
 "encoding": {"y": {"field": "m", "type": "quantitative", "scale": {"domain": [0, 30], "range": [195, 25], "nice": false, "zero": false},
   "axis": {"values": [0, 10, 20, 30], "tickSize": 6, "grid": false, "title": "% Cortex", "titleX": -43, "titleY": 103, "titleAngle": -90, "titleAlign": "center", "titleBaseline": "middle", "titleFontSize": 20, "titleFontWeight": "normal", "titleColor": "#111", "labelFontSize": 15, "labelColor": "#111", "labelPadding": 3, "domainColor": "#555", "domainWidth": 1.2, "tickColor": "#555"}},
  "color": {"condition": {"test": "datum.g == 'Freeze Lesion'", "value": "#b0141b"}, "value": "#121010"}}},
{"mark": {"type": "rule", "color": "#333", "strokeWidth": 1.5}, "encoding": {"y": {"field": "m", "type": "quantitative"}, "y2": {"field": "hi"}}},
{"mark": {"type": "tick", "color": "#333", "size": 8, "thickness": 1.5}, "encoding": {"y": {"field": "hi", "type": "quantitative"}}},
{"mark": {"type": "text", "fontSize": 22, "dy": 0, "baseline": "alphabetic", "align": "center", "color": "#111"}, "encoding": {"y": {"field": "hi", "type": "quantitative"}, "text": {"field": "star"}}}
]
},
{
"width": 335, "height": 222,
"data": {"values": [{}]},
"layer": [
{"data": {"name": "c1"}, "mark": {"type": "line", "strokeWidth": 1.3, "interpolate": "monotone"},
 "encoding": {"x": {"field": "t", "type": "quantitative", "scale": {"domain": [-55, 1620], "nice": false, "zero": false}, "axis": null},
  "y": {"field": "v", "type": "quantitative", "scale": {"domain": [-4.66, 33.62], "nice": false, "zero": false}, "axis": null},
  "detail": {"field": "i", "type": "nominal"},
  "color": {"condition": {"test": "datum.g == 'F'", "value": "#b3141b"}, "value": "#141414"}}},
{"mark": {"type": "rule", "color": "#111", "strokeWidth": 1.3}, "encoding": {"x": {"datum": 1135}, "x2": {"datum": 1235}, "y": {"datum": -2.07}}},
{"mark": {"type": "rule", "color": "#111", "strokeWidth": 1.3}, "encoding": {"x": {"datum": 1235}, "y": {"datum": -2.07}, "y2": {"datum": 2.93}}},
{"mark": {"type": "text", "text": "5%", "align": "left", "baseline": "alphabetic", "fontSize": 16, "color": "#111"}, "encoding": {"x": {"datum": 1260}, "y": {"datum": 0.86}}},
{"mark": {"type": "text", "text": "Cortex", "align": "left", "baseline": "alphabetic", "fontSize": 16, "color": "#111"}, "encoding": {"x": {"datum": 1260}, "y": {"datum": -2.24}}},
{"mark": {"type": "text", "text": "C.", "align": "left", "baseline": "alphabetic", "fontSize": 26, "color": "#111"}, "encoding": {"x": {"datum": -5}, "y": {"datum": 28.8}}},
{"mark": {"type": "text", "text": "%Cortex ΔFRET>0.1", "align": "left", "baseline": "alphabetic", "fontSize": 25, "color": "#111"}, "encoding": {"x": {"datum": 180}, "y": {"datum": 25.3}}},
{"mark": {"type": "rule", "color": "#111", "strokeWidth": 2}, "encoding": {"x": {"datum": 180}, "x2": {"datum": 1545}, "y": {"datum": 24.7}}}
]
},
{
"width": 377, "height": 222,
"data": {"values": [{}]},
"layer": [
{"data": {"name": "c2"}, "mark": {"type": "area", "interpolate": "monotone"},
 "encoding": {"x": {"field": "t", "type": "quantitative", "scale": {"domain": [10, 1895], "nice": false, "zero": false}, "axis": null},
  "y": {"field": "lo", "type": "quantitative", "scale": {"domain": [-1.67, 13.13], "nice": false, "zero": false}, "axis": null},
  "y2": {"field": "hi"},
  "detail": {"field": "g", "type": "nominal"},
  "color": {"condition": {"test": "datum.g == 'F'", "value": "#b3141b"}, "value": "#1e1e1e"}}},
{"data": {"name": "c2"}, "mark": {"type": "line", "strokeWidth": 1, "interpolate": "monotone"},
 "encoding": {"x": {"field": "t", "type": "quantitative"}, "y": {"field": "m", "type": "quantitative"},
  "detail": {"field": "g", "type": "nominal"},
  "color": {"condition": {"test": "datum.g == 'F'", "value": "#d84a4a"}, "value": "#5a5a5a"}}},
{"mark": {"type": "rule", "color": "#111", "strokeWidth": 1.3}, "encoding": {"x": {"datum": 1135}, "x2": {"datum": 1235}, "y": {"datum": -1.0}}},
{"mark": {"type": "rule", "color": "#111", "strokeWidth": 1.3}, "encoding": {"x": {"datum": 1235}, "y": {"datum": -1.0}, "y2": {"datum": 1.0}}},
{"mark": {"type": "text", "text": "2%", "align": "left", "baseline": "alphabetic", "fontSize": 16, "color": "#111"}, "encoding": {"x": {"datum": 1260}, "y": {"datum": 0.27}}},
{"mark": {"type": "text", "text": "Cortex", "align": "left", "baseline": "alphabetic", "fontSize": 16, "color": "#111"}, "encoding": {"x": {"datum": 1260}, "y": {"datum": -1.0}}}
]
},
{
"width": 193, "height": 222,
"data": {"values": [{"g": "Non-lesion", "m": 2.65, "hi": 3.47, "star": ""}, {"g": "Freeze Lesion", "m": 10.6, "hi": 11.9, "star": "***"}]},
"encoding": {"x": {"field": "g", "type": "nominal", "sort": ["Non-lesion", "Freeze Lesion"], "scale": {"paddingInner": 0.2, "paddingOuter": 0.05, "align": 1},
 "axis": {"title": null, "offset": -26, "labelAngle": -45, "labelBaseline": "middle", "labelFont": "Open Sans", "labelFontSize": 12, "labelColor": {"condition": {"test": "datum.value == 'Freeze Lesion'", "value": "#b3141b"}, "value": "#111"}, "domainColor": "#555", "domainWidth": 1.2, "tickColor": "#555", "tickSize": 5, "labelPadding": 2}}},
"layer": [
{"mark": {"type": "bar", "stroke": "#777", "strokeWidth": 0.5},
 "encoding": {"y": {"field": "m", "type": "quantitative", "scale": {"domain": [0, 15], "range": [196, 26], "nice": false, "zero": false},
   "axis": {"values": [0, 5, 10, 15], "tickSize": 6, "grid": false, "title": "% Cortex", "titleX": -42, "titleY": 113, "titleAngle": -90, "titleAlign": "center", "titleBaseline": "middle", "titleFontSize": 20, "titleFontWeight": "normal", "titleColor": "#111", "labelFontSize": 15, "labelColor": "#111", "labelPadding": 3, "domainColor": "#555", "domainWidth": 1.2, "tickColor": "#555"}},
  "color": {"condition": {"test": "datum.g == 'Freeze Lesion'", "value": "#b0141b"}, "value": "#121010"}}},
{"mark": {"type": "rule", "color": "#333", "strokeWidth": 1.5}, "encoding": {"y": {"field": "m", "type": "quantitative"}, "y2": {"field": "hi"}}},
{"mark": {"type": "tick", "color": "#333", "size": 8, "thickness": 1.5}, "encoding": {"y": {"field": "hi", "type": "quantitative"}}},
{"mark": {"type": "text", "fontSize": 22, "dy": -1, "baseline": "alphabetic", "align": "center", "color": "#111"}, "encoding": {"y": {"field": "hi", "type": "quantitative"}, "text": {"field": "star"}}}
]
}
]
}
